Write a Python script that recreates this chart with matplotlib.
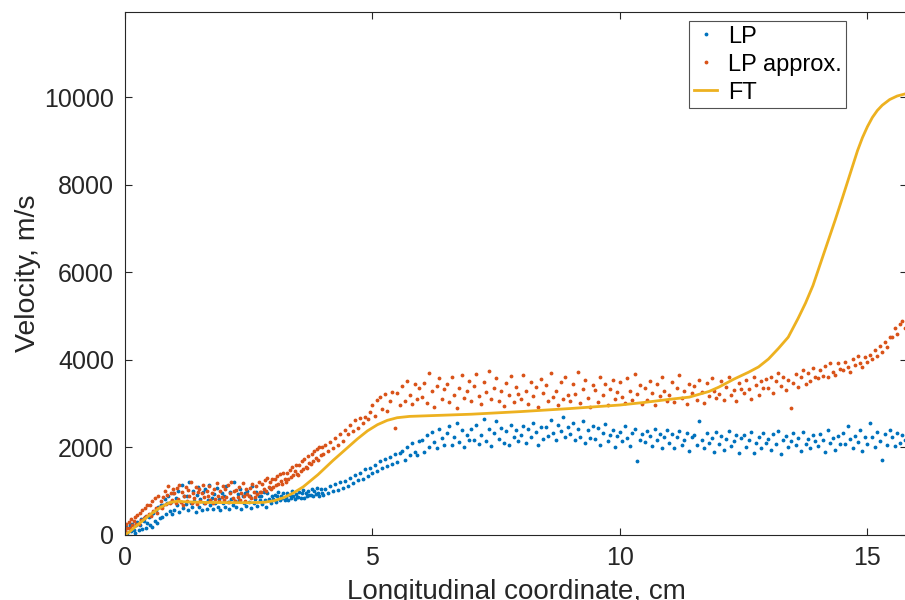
import numpy as np
import matplotlib.pyplot as plt

plt.rcParams['font.family'] = ['Liberation Sans', 'DejaVu Sans']

# sample positions along the tube (dense start, coarser afterwards)
x_dense = np.linspace(0, 3.975, 160)
x_sparse = np.linspace(4.0, 15.8, 237)

# LP velocities, m/s
lp_dense = [
    60, 180, 40, 150, 230, 90, 250, 120, 50, 220,
    300, 110, 230, 360, 140, 310, 400, 170, 270, 420,
    230, 460, 180, 500, 330, 560, 270, 640, 380, 690,
    400, 680, 820, 480, 720, 900, 550, 760, 470, 950,
    560, 850, 680, 1000, 520, 760, 1150, 610, 880, 700,
    900, 580, 1200, 730, 640, 1000, 770, 520, 920, 1100,
    640, 830, 560, 980, 720, 1060, 600, 800, 1150, 690,
    850, 590, 940, 740, 1080, 640, 820, 560, 960, 720,
    900, 650, 1120, 750, 600, 980, 820, 680, 1200, 770,
    640, 930, 790, 1060, 590, 880, 740, 970, 670, 1010,
    760, 900, 620, 1120, 730, 830, 980, 670, 880, 790,
    900, 700, 990, 810, 650, 950, 830, 1080, 740, 880,
    820, 920, 760, 880, 980, 790, 900, 850, 950, 800,
    860, 950, 800, 920, 840, 1000, 880, 820, 940, 870,
    870, 990, 850, 950, 1020, 840, 960, 900, 1000, 920,
    910, 1040, 890, 1000, 930, 1080, 960, 900, 1050, 970,
]
lp_sparse = [
    920, 1060, 950, 1110, 1000, 1160, 1030, 1200, 1080, 1230,
    1130, 1300, 1190, 1380, 1250, 1420, 1290, 1500, 1350, 1540,
    1410, 1600, 1460, 1680, 1520, 1730, 1570, 1780, 1620, 1840,
    1660, 1870, 1930, 1720, 2020, 1830, 2100, 1900, 1820, 2150,
    2180, 1900, 2280, 2000, 2360, 2120, 1980, 2420, 2220, 2060,
    2320, 2500, 2050, 2230, 2560, 2130, 2400, 2000, 2290, 2170,
    2420, 2180, 2520, 2080, 2290, 2650, 2150, 2430, 2030, 2340,
    2600, 2200, 2440, 2100, 2370, 2050, 2520, 2240, 2400, 2150,
    2280, 2500, 2110, 2420, 2230, 2570, 2360, 2060, 2470, 2190,
    2460, 2260, 2620, 2330, 2170, 2520, 2380, 2700, 2240, 2470,
    2310, 2560, 2160, 2420, 2250, 2600, 2110, 2400, 2220, 2500,
    2200, 2450, 2060, 2330, 2540, 2140, 2280, 2400, 2020, 2260,
    2360, 2140, 2500, 2210, 2030, 2320, 2430, 1700, 2180, 2310,
    2120, 2370, 2270, 2030, 2420, 2160, 2300, 1980, 2250, 2400,
    2110, 2310, 1980, 2240, 2380, 2060, 2180, 2340, 1930, 2230,
    2280, 2050, 2600, 2160, 1990, 2320, 2110, 2220, 1900, 2360,
    2090, 2260, 1950, 2190, 2370, 2030, 2150, 2290, 1880, 2210,
    2290, 2010, 2180, 2360, 1870, 2110, 2240, 1990, 2340, 2100,
    2200, 1940, 2300, 2080, 2380, 1860, 2180, 2260, 2010, 2140,
    2330, 2050, 2220, 1920, 2360, 2090, 2190, 1980, 2290, 2140,
    2030, 2310, 2170, 1890, 2400, 2110, 2210, 1950, 2260, 2080,
    2340, 2090, 2500, 2190, 1980, 2270, 2130, 2410, 1920, 2230,
    2080, 2560, 2240, 2000, 2360, 2150, 1720, 2300, 2060, 2400,
    2230, 2030, 2330, 2110, 2290, 2160, 2250,
]

# LP approximation velocities, m/s
lpa_dense = [
    90, 240, 160, 300, 170, 360, 220, 330, 420, 250,
    450, 260, 500, 350, 560, 380, 620, 430, 680, 470,
    680, 430, 780, 540, 850, 620, 500, 900, 640, 780,
    620, 860, 1000, 700, 920, 1120, 740, 950, 800, 1050,
    960, 730, 1080, 820, 1150, 760, 990, 680, 900, 1100,
    780, 1020, 890, 1200, 720, 960, 840, 1090, 700, 980,
    1040, 780, 950, 1150, 860, 740, 1000, 890, 1120, 800,
    960, 740, 1060, 830, 1180, 900, 770, 1010, 860, 1120,
    800, 1040, 870, 1150, 760, 950, 1220, 850, 1000, 780,
    1020, 860, 1100, 810, 960, 1180, 890, 780, 1050, 930,
    890, 1080, 850, 1160, 980, 870, 1110, 930, 1200, 990,
    980, 1170, 1040, 1250, 1000, 1300, 1090, 1200, 1050, 1270,
    1090, 1290, 1150, 1340, 1170, 1400, 1230, 1160, 1420, 1280,
    1210, 1420, 1280, 1480, 1320, 1560, 1360, 1470, 1600, 1400,
    1370, 1600, 1460, 1680, 1510, 1740, 1560, 1530, 1800, 1640,
    1630, 1840, 1700, 1930, 1760, 1960, 1720, 2000, 1830, 2020,
]
lpa_sparse = [
    1840, 2060, 1930, 2130, 1990, 2220, 2060, 2310, 2150, 2400,
    2300, 2520, 2380, 2620, 2440, 2680, 2560, 2700, 2640, 2800,
    2980, 2720, 3080, 3150, 2880, 3220, 2840, 3060, 3260, 2440,
    3250, 2980, 3400, 3060, 3520, 3200, 3000, 3460, 3100, 3350,
    3150, 3480, 3020, 3700, 3280, 2930, 3400, 3580, 3100, 3330,
    3450, 3040, 3600, 3200, 2900, 3360, 3650, 3120, 3290, 3520,
    3060, 3400, 3680, 3180, 2990, 3500, 3260, 3750, 3110, 3350,
    3580, 3070, 3300, 2950, 3470, 3190, 3640, 3040, 3380, 3220,
    3110, 3650, 3280, 3000, 3490, 3180, 3390, 2920, 3560, 3250,
    3420, 3060, 3700, 3150, 3300, 2970, 3500, 3110, 3600, 3200,
    3070, 3450, 3230, 3720, 3020, 3330, 3550, 3130, 2930, 3420,
    3310, 3040, 3620, 3190, 3460, 2960, 3330, 3540, 3100, 3270,
    3490, 3150, 3010, 3580, 3290, 3090, 3690, 3220, 3420, 3000,
    3360, 3090, 3520, 3250, 2960, 3460, 3170, 3620, 3300, 3060,
    3200, 3490, 3040, 3350, 3660, 3140, 3300, 2990, 3450, 3240,
    3410, 3080, 3540, 3270, 3010, 3470, 3180, 3590, 3300, 3120,
    3230, 3510, 3090, 3390, 3620, 3200, 3320, 3060, 3480, 3340,
    3240, 3540, 3330, 3110, 3620, 3420, 3210, 3520, 3360, 3570,
    3350, 3600, 3250, 3510, 3700, 3400, 3620, 3320, 3540, 2900,
    3480, 3680, 3380, 3620, 3780, 3460, 3700, 3530, 3820, 3600,
    3580, 3780, 3640, 3860, 3600, 3940, 3720, 3660, 3920, 3790,
    3780, 3960, 3850, 3720, 4020, 3880, 4100, 3930, 3830, 4060,
    3960, 4120, 4030, 4230, 4100, 4310, 4180, 4420, 4290, 4520,
    4520, 4720, 4600, 4820, 4880, 4740, 5060,
]

# FT solution
ft_x = [0, 0.1, 0.2, 0.35, 0.5, 0.7, 0.9, 1.05, 1.2, 1.6, 2.0, 2.4, 2.8,
        3.0, 3.2, 3.4, 3.6, 3.9, 4.2, 4.5, 4.7, 4.9, 5.1, 5.3, 5.5, 5.75,
        6.0, 7.0, 8.0, 9.0, 10.0, 10.5, 11.0, 11.4, 11.8, 12.0, 12.3, 12.6,
        12.8, 13.0, 13.2, 13.4, 13.6, 13.75, 13.9, 14.05, 14.2, 14.35, 14.5,
        14.65, 14.8, 14.9, 15.0, 15.1, 15.2, 15.3, 15.45, 15.6, 15.8]
ft_v = [0, 80, 180, 320, 460, 620, 740, 770, 760, 745, 740, 738, 745,
        780, 850, 960, 1100, 1380, 1700, 2000, 2200, 2380, 2520, 2620, 2680,
        2710, 2720, 2760, 2820, 2890, 2970, 3030, 3100, 3150, 3280, 3380,
        3560, 3720, 3840, 4020, 4260, 4520, 4950, 5300, 5700, 6200, 6700,
        7200, 7720, 8250, 8780, 9080, 9330, 9540, 9700, 9820, 9950, 10030,
        10090]

lp_x = np.concatenate([x_dense, x_sparse])
lp_v = np.array(lp_dense + lp_sparse)
lpa_v = np.array(lpa_dense + lpa_sparse)

fig = plt.figure(figsize=(9.05, 6.0), dpi=100)
ax = fig.add_axes([125/905, 65/600, 782/905, 523/600])

ax.plot(lp_x, lp_v, '.', color='#0072BD', ms=3.5, label='LP')
ax.plot(lp_x, lpa_v, '.', color='#D95319', ms=3.5, label='LP approx.')
ax.plot(ft_x, ft_v, '-', color='#EDB120', lw=2, label='FT')

ax.set_xlim(0, 15.8)
ax.set_ylim(0, 11950)
ax.set_xticks([0, 5, 10, 15])
ax.set_yticks([0, 2000, 4000, 6000, 8000, 10000])

for s in ax.spines.values():
    s.set_color('#262626')
    s.set_linewidth(0.8)
ax.tick_params(direction='in', length=5, width=0.8, colors='#262626',
               labelsize=18, top=True, right=True, pad=8)

ax.set_ylabel('Velocity, m/s', fontsize=20.5, color='#262626')
ax.yaxis.set_label_coords(-0.107, 0.5)
ax.set_xlabel('Longitudinal coordinate, cm', fontsize=20, color='#262626')
ax.xaxis.set_label_coords(0.5, -0.085)

leg = ax.legend(loc='upper left', bbox_to_anchor=(0.7212, 0.9828),
                fontsize=17, frameon=True, fancybox=False, borderpad=0.2,
                handlelength=1.0, handletextpad=0.45, labelspacing=0.25,
                borderaxespad=0, markerscale=1.0)
leg.get_frame().set_edgecolor('#262626')
leg.get_frame().set_linewidth(0.8)

fig.savefig('out.png', dpi=100)
